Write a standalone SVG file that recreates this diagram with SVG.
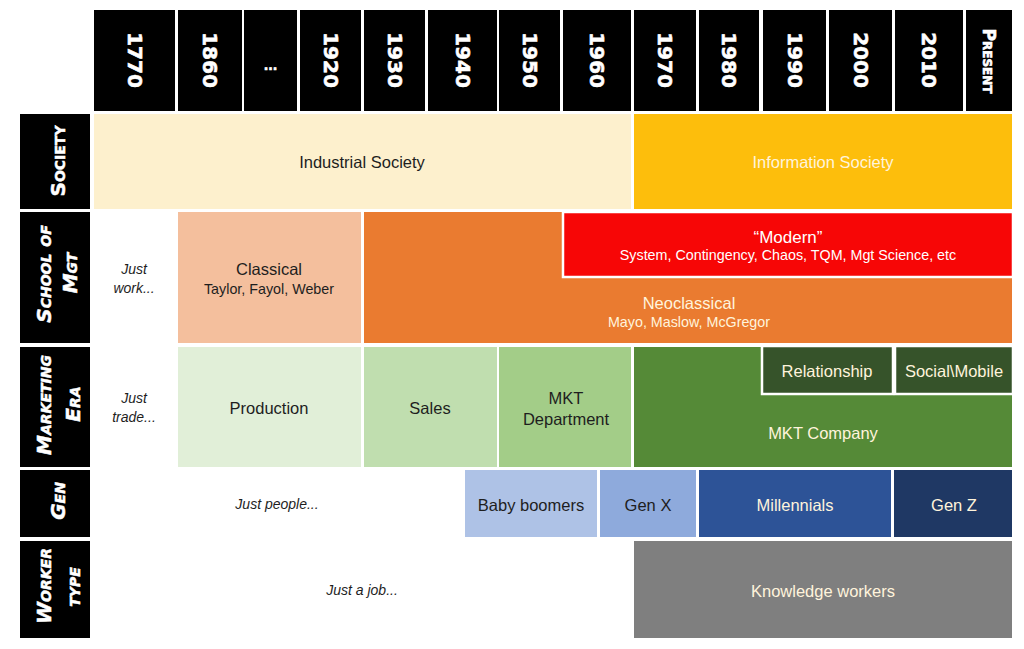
<svg xmlns="http://www.w3.org/2000/svg" width="1024" height="649" viewBox="0 0 1024 649">
<style>
.hd{fill:#000}
.yr{font-family:"DejaVu Sans",sans-serif;font-weight:bold;font-size:20px;fill:#fff;stroke:#fff;stroke-width:0.6;text-anchor:middle;dominant-baseline:central}
.rl{font-family:"DejaVu Sans",sans-serif;font-weight:bold;font-size:20px;fill:#fff;stroke:#fff;stroke-width:0.5;text-anchor:middle;dominant-baseline:central;font-variant:small-caps}
.it{font-style:italic}
.t{font-family:"Liberation Sans",Arial,sans-serif;text-anchor:middle;dominant-baseline:central}
.dk{fill:#1e1e1e}
.wh{fill:#fff}
.cr{fill:#fff4dc}
.b16{font-size:16.5px}
.b14{font-size:14.3px}
.i14{font-size:14px;font-style:italic}
</style>
<rect width="1024" height="649" fill="#fff"/>

<g id="header">
<rect class="hd" x="94" y="10" width="81" height="101"/>
<text class="yr" transform="translate(134.5,60) rotate(90)">1770</text>
<rect class="hd" x="178" y="10" width="64" height="101"/>
<text class="yr" transform="translate(210,60) rotate(90)">1860</text>
<rect class="hd" x="244" y="10" width="53" height="101"/>
<text class="yr" x="270.5" y="66" style="font-size:12px">...</text>
<rect class="hd" x="300" y="10" width="61" height="101"/>
<text class="yr" transform="translate(330.5,60) rotate(90)">1920</text>
<rect class="hd" x="364" y="10" width="61" height="101"/>
<text class="yr" transform="translate(394.5,60) rotate(90)">1930</text>
<rect class="hd" x="428" y="10" width="69" height="101"/>
<text class="yr" transform="translate(462.5,60) rotate(90)">1940</text>
<rect class="hd" x="499" y="10" width="61" height="101"/>
<text class="yr" transform="translate(529.5,60) rotate(90)">1950</text>
<rect class="hd" x="563" y="10" width="68" height="101"/>
<text class="yr" transform="translate(597,60) rotate(90)">1960</text>
<rect class="hd" x="634" y="10" width="62" height="101"/>
<text class="yr" transform="translate(665,60) rotate(90)">1970</text>
<rect class="hd" x="699" y="10" width="60" height="101"/>
<text class="yr" transform="translate(729,60) rotate(90)">1980</text>
<rect class="hd" x="763" y="10" width="63" height="101"/>
<text class="yr" transform="translate(794.5,60) rotate(90)">1990</text>
<rect class="hd" x="829" y="10" width="63" height="101"/>
<text class="yr" transform="translate(860.5,60) rotate(90)">2000</text>
<rect class="hd" x="895" y="10" width="68" height="101"/>
<text class="yr" transform="translate(929,60) rotate(90)">2010</text>
<rect class="hd" x="966" y="10" width="46" height="101"/>
<text class="yr" transform="translate(989,61) rotate(90)" style="font-size:17px;font-variant:small-caps">Present</text>
</g>

<g id="row-labels">
<rect class="hd" x="20" y="114" width="70" height="95"/>
<text class="rl" transform="translate(58,161) rotate(-90)">Society</text>
<rect class="hd" x="20" y="212" width="70" height="131"/>
<text class="rl it" transform="translate(44,274) rotate(-90)">School of</text>
<text class="rl it" transform="translate(70,273) rotate(-90)">Mgt</text>
<rect class="hd" x="20" y="347" width="70" height="120"/>
<text class="rl it" transform="translate(44,405) rotate(-90)">Marketing</text>
<text class="rl it" transform="translate(73,404) rotate(-90)">Era</text>
<rect class="hd" x="20" y="470" width="70" height="67"/>
<text class="rl it" transform="translate(58,501) rotate(-90)">Gen</text>
<rect class="hd" x="20" y="541" width="70" height="97"/>
<text class="rl it" transform="translate(44,586) rotate(-90)">Worker</text>
<text class="rl it" transform="translate(73,587) rotate(-90)">type</text>
</g>

<g id="industrial-society">
<rect x="94" y="114" width="537" height="95" fill="#fdf0cd"/>
<text class="t dk b16" x="362" y="162">Industrial Society</text>
</g>
<g id="information-society">
<rect x="634" y="114" width="378" height="95" fill="#fdbe0c"/>
<text class="t cr b16" x="823" y="162">Information Society</text>
</g>

<g id="just-work">
<text class="t dk i14" x="134" y="269">Just</text>
<text class="t dk i14" x="134" y="288">work...</text>
</g>
<g id="classical">
<rect x="178" y="212" width="183" height="131" fill="#f4bf9d"/>
<text class="t dk b16" x="269" y="269">Classical</text>
<text class="t dk b14" x="269" y="289">Taylor, Fayol, Weber</text>
</g>
<g id="neoclassical">
<rect x="364" y="212" width="648" height="131" fill="#ea7b30"/>
<text class="t cr b16" x="689" y="303">Neoclassical</text>
<text class="t cr b14" x="689" y="322">Mayo, Maslow, McGregor</text>
</g>
<g id="modern">
<rect x="563" y="212" width="450" height="65" fill="#f70606" stroke="#fff" stroke-width="2.5"/>
<text class="t wh" x="788" y="237" style="font-size:17px">“Modern”</text>
<text class="t wh b14" x="788" y="255">System, Contingency, Chaos, TQM, Mgt Science, etc</text>
</g>

<g id="just-trade">
<text class="t dk i14" x="134" y="398">Just</text>
<text class="t dk i14" x="134" y="417">trade...</text>
</g>
<g id="production">
<rect x="178" y="347" width="183" height="120" fill="#e1efd8"/>
<text class="t dk b16" x="269" y="408">Production</text>
</g>
<g id="sales">
<rect x="364" y="347" width="133" height="120" fill="#c0deaf"/>
<text class="t dk b16" x="430" y="408">Sales</text>
</g>
<g id="mkt-department">
<rect x="499" y="347" width="132" height="120" fill="#a3cd88"/>
<text class="t dk b16" x="566" y="398">MKT</text>
<text class="t dk b16" x="566" y="419">Department</text>
</g>
<g id="mkt-company">
<rect x="634" y="347" width="378" height="120" fill="#558a37"/>
<text class="t cr b16" x="823" y="433">MKT Company</text>
</g>
<g id="relationship">
<rect x="762" y="346" width="131" height="48" fill="#36532a" stroke="#fff" stroke-width="2.5"/>
<text class="t cr b16" x="827" y="371">Relationship</text>
</g>
<g id="social-mobile">
<rect x="895" y="346" width="118" height="48" fill="#36532a" stroke="#fff" stroke-width="2.5"/>
<text class="t cr b16" x="954" y="371">Social\Mobile</text>
</g>

<g id="just-people">
<text class="t dk i14" x="277" y="504">Just people...</text>
</g>
<g id="baby-boomers">
<rect x="465" y="470" width="132" height="67" fill="#aec2e6"/>
<text class="t dk b16" x="531" y="505">Baby boomers</text>
</g>
<g id="gen-x">
<rect x="600" y="470" width="96" height="67" fill="#8eaadc"/>
<text class="t dk b16" x="648" y="505">Gen X</text>
</g>
<g id="millennials">
<rect x="699" y="470" width="192" height="67" fill="#2d5397"/>
<text class="t cr b16" x="795" y="505">Millennials</text>
</g>
<g id="gen-z">
<rect x="894" y="470" width="118" height="67" fill="#1f3864"/>
<text class="t cr b16" x="954" y="505">Gen Z</text>
</g>

<g id="just-a-job">
<text class="t dk i14" x="362" y="590">Just a job...</text>
</g>
<g id="knowledge-workers">
<rect x="634" y="541" width="378" height="97" fill="#7f7f7f"/>
<text class="t cr b16" x="823" y="591">Knowledge workers</text>
</g>
</svg>
